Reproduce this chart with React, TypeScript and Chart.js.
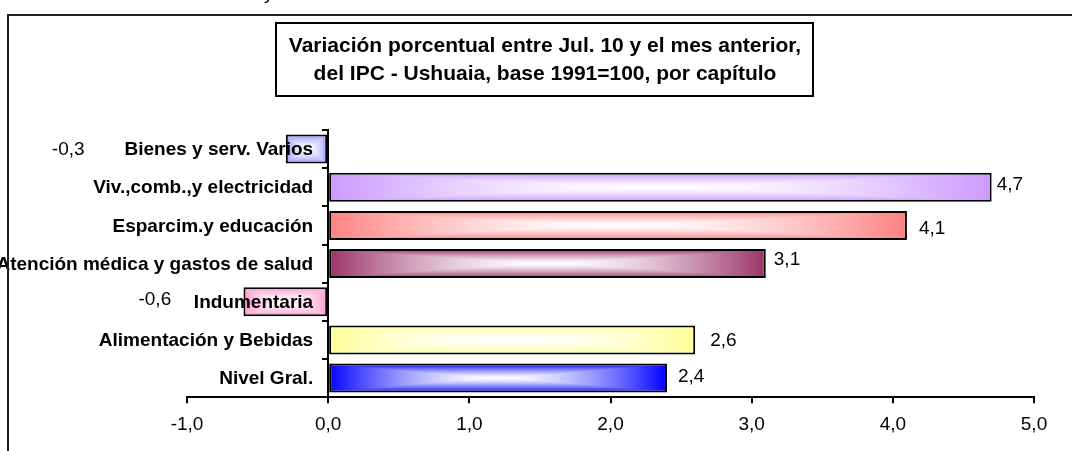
import { useEffect, useRef } from 'react';
import { Chart, registerables } from 'chart.js';

Chart.register(...registerables);

// ---- data ----
const categories = [
  'Bienes y serv. Varios',
  'Viv.,comb.,y electricidad',
  'Esparcim.y educación',
  'Atención médica y gastos de salud',
  'Indumentaria',
  'Alimentación y Bebidas',
  'Nivel Gral.',
];
const values = [-0.3, 4.7, 4.1, 3.1, -0.6, 2.6, 2.4];
const xMin = -1;
const xMax = 5;
const xStep = 1;
const titleLines = [
  'Variación porcentual entre Jul. 10 y el mes anterior,',
  'del IPC - Ushuaia, base 1991=100, por capítulo',
];

// ---- styles ----
const barColors = ['#9999FF', '#CC99FF', '#FF8080', '#993366', '#FF99CC', '#FFFF99', '#0000FF'];
const labelOffsetX = [-234, 5, 12, 8, -105, 15, 11];
const labelOffsetY = [1, -2, 3, -4, -2, 1, -1];
const FONT = "'Liberation Sans', Arial, Helvetica, sans-serif";
const BAR_PCT = 0.76;

const fmt = (v: number) => v.toFixed(1).replace('.', ',');

function hexToRgb(h: string) {
  const n = parseInt(h.slice(1), 16);
  return [(n >> 16) & 255, (n >> 8) & 255, n & 255];
}

function makeFill(ctx: CanvasRenderingContext2D, color: string, left: number, top: number, w: number, h: number) {
  const W = Math.max(1, Math.round(w));
  const H = Math.max(1, Math.round(h));
  const off = document.createElement('canvas');
  off.width = W;
  off.height = H;
  const octx = off.getContext('2d')!;
  const img = octx.createImageData(W, H);
  const [r, g, b] = hexToRgb(color);
  for (let y = 0; y < H; y++) {
    for (let x = 0; x < W; x++) {
      const dx = Math.abs(x + 0.5 - W / 2) / (W / 2);
      const dy = Math.abs(y + 0.5 - H / 2) / (H / 2);
      const t = Math.min(1, Math.max(Math.pow(dx, 1.6), Math.pow(dy, 1.3)));
      const i = (y * W + x) * 4;
      img.data[i] = 255 + (r - 255) * t;
      img.data[i + 1] = 255 + (g - 255) * t;
      img.data[i + 2] = 255 + (b - 255) * t;
      img.data[i + 3] = 255;
    }
  }
  octx.putImageData(img, 0, 0);
  const pat = ctx.createPattern(off, 'no-repeat')!;
  pat.setTransform(new DOMMatrix([1, 0, 0, 1, left, top]));
  return pat;
}

const decorPlugin = {
  id: 'decor',
  afterDatasetsDraw(chart: any) {
    const ctx = chart.ctx as CanvasRenderingContext2D;
    const meta = chart.getDatasetMeta(0);
    ctx.save();
    ctx.font = `19px ${FONT}`;
    ctx.fillStyle = '#000';
    ctx.textAlign = 'left';
    ctx.textBaseline = 'middle';
    meta.data.forEach((bar: any, i: number) => {
      ctx.fillText(fmt(values[i]), bar.x + labelOffsetX[i], bar.y + labelOffsetY[i]);
    });
    ctx.restore();
  },
  afterDraw(chart: any) {
    const ctx = chart.ctx as CanvasRenderingContext2D;
    const xs = chart.scales.x;
    const ys = chart.scales.y;
    ctx.save();
    // category labels (over bars), positioned by the scales
    ctx.font = `bold 19px ${FONT}`;
    ctx.fillStyle = '#000';
    ctx.textAlign = 'right';
    ctx.textBaseline = 'middle';
    const xAxis = xs.getPixelForValue(0);
    categories.forEach((c, i) => {
      ctx.fillText(c, xAxis - 15, ys.getPixelForValue(i) + 1);
    });
    // outer frame (top & left)
    ctx.fillStyle = '#222';
    ctx.fillRect(7, 14, 1072, 2);
    ctx.fillRect(7, 14, 2, 451);
    // cut-off text above frame
    ctx.fillStyle = '#000';
    ctx.font = `19px ${FONT}`;
    ctx.textAlign = 'left';
    ctx.textBaseline = 'alphabetic';
    ctx.fillText('y', 264, -1);
    // title box
    ctx.lineWidth = 2;
    ctx.strokeStyle = '#000';
    ctx.strokeRect(276, 23, 537, 73);
    ctx.font = `bold 21px ${FONT}`;
    ctx.textAlign = 'center';
    ctx.textBaseline = 'middle';
    ctx.fillText(titleLines[0], 545, 46);
    ctx.fillText(titleLines[1], 545, 74);
    ctx.restore();
  },
};

export default function App() {
  const ref = useRef<HTMLCanvasElement>(null);
  useEffect(() => {
    if (!ref.current) return;
    Chart.defaults.font.family = FONT;
    const chart = new Chart(ref.current, {
      type: 'bar',
      data: {
        labels: categories,
        datasets: [
          {
            data: values,
            backgroundColor: (c: any) => {
              const idx = c.dataIndex ?? 0;
              const base = barColors[idx % barColors.length];
              const ch = c.chart;
              const xs = ch.scales?.x;
              const ys = ch.scales?.y;
              if (c.type !== 'data' || !xs || !ys || !ch.chartArea) return base;
              const x0 = xs.getPixelForValue(0);
              const x1 = xs.getPixelForValue(values[idx]);
              const yc = ys.getPixelForValue(idx);
              const th = (ys.height / categories.length) * BAR_PCT;
              return makeFill(ch.ctx, base, Math.min(x0, x1), yc - th / 2, Math.abs(x1 - x0), th);
            },
            borderColor: '#000',
            borderWidth: 2,
            borderSkipped: false,
            barPercentage: BAR_PCT,
            categoryPercentage: 1,
          },
        ],
      },
      options: {
        indexAxis: 'y',
        responsive: false,
        animation: false,
        devicePixelRatio: 1,
        layout: { padding: { left: 187, right: 38, top: 130, bottom: 5 } },
        plugins: {
          legend: { display: false },
          tooltip: { enabled: false },
          title: { display: false },
        },
        scales: {
          x: {
            type: 'linear',
            position: 'bottom',
            min: xMin,
            max: xMax,
            ticks: {
              stepSize: xStep,
              callback: (v: any) => fmt(Number(v)),
              font: { size: 19, family: FONT },
              color: '#000',
              padding: 10,
              maxRotation: 0,
            },
            grid: { drawOnChartArea: false, drawTicks: true, tickLength: 6, color: '#000', lineWidth: 2 },
            border: { display: true, color: '#000', width: 2 },
          },
          y: {
            type: 'category',
            position: { x: 0 } as any,
            ticks: { display: false, autoSkip: false },
            grid: { offset: true, drawOnChartArea: false, drawTicks: true, tickLength: 5, color: '#000', lineWidth: 2, z: 1 },
            border: { display: true, color: '#000', width: 2, z: 1 },
          },
        },
      } as any,
      plugins: [decorPlugin],
    });
    return () => chart.destroy();
  }, []);
  return (
    <div style={{ position: 'fixed', left: 0, top: 0, width: 1072, height: 451, background: '#fff' }}>
      <canvas ref={ref} width={1072} height={451} style={{ display: 'block', width: 1072, height: 451 }} />
    </div>
  );
}
